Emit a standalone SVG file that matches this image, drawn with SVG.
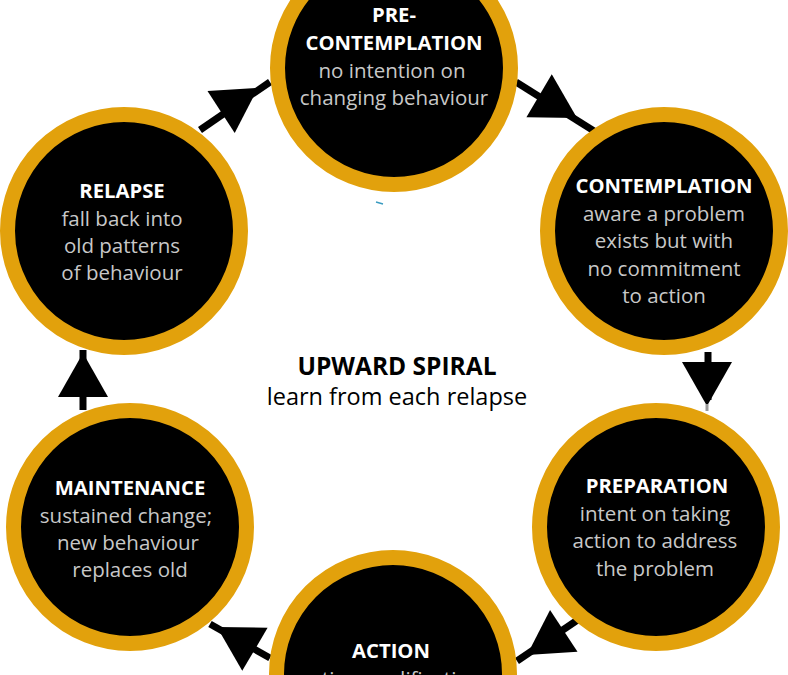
<svg xmlns="http://www.w3.org/2000/svg" xmlns:xlink="http://www.w3.org/1999/xlink" width="788" height="675" viewBox="0 0 788 675">
<style>
.ring{fill:#000;stroke:#E2A10C;stroke-width:15}
.t{font-family:"Open Sans","Liberation Sans",sans-serif;text-anchor:middle}
.h{font-weight:bold;font-size:20.3px;fill:#fff}
.d{font-size:20.5px;fill:#c8c8c8}
.c{stroke:#000;stroke-width:7;fill:none}
.ttl{font-family:"Open Sans","Liberation Sans",sans-serif;text-anchor:middle;fill:#000}
</style>
<defs>
<path id="ah" d="M0,0 L-44,-25 L-44,25 Z" fill="#000"/>
</defs>
<rect width="788" height="675" fill="#fff"/>
<g id="connectors">
<line class="c" x1="200" y1="130" x2="270" y2="82"/>
<use xlink:href="#ah" transform="translate(258,88) rotate(-33)"/>
<line class="c" x1="516" y1="82" x2="594" y2="131"/>
<use xlink:href="#ah" transform="translate(577,118) rotate(30.5)"/>
<line class="c" x1="708" y1="352" x2="708" y2="400"/>
<use xlink:href="#ah" transform="translate(707,406) rotate(90)"/>
<line x1="707" y1="404" x2="707" y2="411" stroke="#999" stroke-width="3"/>
<line class="c" x1="579" y1="619" x2="517" y2="661"/>
<use xlink:href="#ah" transform="translate(527,655) rotate(146.7)"/>
<line class="c" x1="270" y1="658" x2="210" y2="624"/>
<use xlink:href="#ah" transform="translate(217,627) rotate(-149.5)"/>
<line class="c" x1="83" y1="410" x2="83" y2="350"/>
<use xlink:href="#ah" transform="translate(83,353) rotate(-90)"/>
</g>
<g id="precontemplation">
<circle class="ring" cx="394" cy="68" r="116.5"/>
<text class="t h" x="394" y="22">PRE-</text>
<text class="t h" x="394" y="50">CONTEMPLATION</text>
<text class="t d" x="392" y="78">no intention on</text>
<text class="t d" x="394" y="105">changing behaviour</text>
</g>
<g id="contemplation">
<circle class="ring" cx="664" cy="231" r="116.5"/>
<text class="t h" x="664" y="193">CONTEMPLATION</text>
<text class="t d" x="664" y="221">aware a problem</text>
<text class="t d" x="664" y="248">exists but with</text>
<text class="t d" x="664" y="276">no commitment</text>
<text class="t d" x="664" y="303">to action</text>
</g>
<g id="preparation">
<circle class="ring" cx="656" cy="527" r="116.5"/>
<text class="t h" x="657" y="493">PREPARATION</text>
<text class="t d" x="655" y="521">intent on taking</text>
<text class="t d" x="655" y="548">action to address</text>
<text class="t d" x="655" y="576">the problem</text>
</g>
<g id="action">
<circle class="ring" cx="393" cy="674" r="116.5"/>
<text class="t h" x="391" y="658">ACTION</text>
<text class="t d" x="391" y="686">active modification</text>
</g>
<g id="maintenance">
<circle class="ring" cx="130" cy="527" r="116.5"/>
<text class="t h" x="130" y="495">MAINTENANCE</text>
<text class="t d" x="126" y="523">sustained change;</text>
<text class="t d" x="128" y="550">new behaviour</text>
<text class="t d" x="130" y="577">replaces old</text>
</g>
<g id="relapse">
<circle class="ring" cx="124" cy="231" r="116.5"/>
<text class="t h" x="122" y="198">RELAPSE</text>
<text class="t d" x="122" y="226">fall back into</text>
<text class="t d" x="122" y="253">old patterns</text>
<text class="t d" x="122" y="280">of behaviour</text>
</g>
<g id="title">
<text class="ttl" x="397" y="375" font-size="24.5" font-weight="bold">UPWARD SPIRAL</text>
<text class="ttl" x="397" y="405" font-size="23.5">learn from each relapse</text>
</g>
<path d="M376,202 L383,204" stroke="#3a9bc0" stroke-width="1.5"/>
</svg>
